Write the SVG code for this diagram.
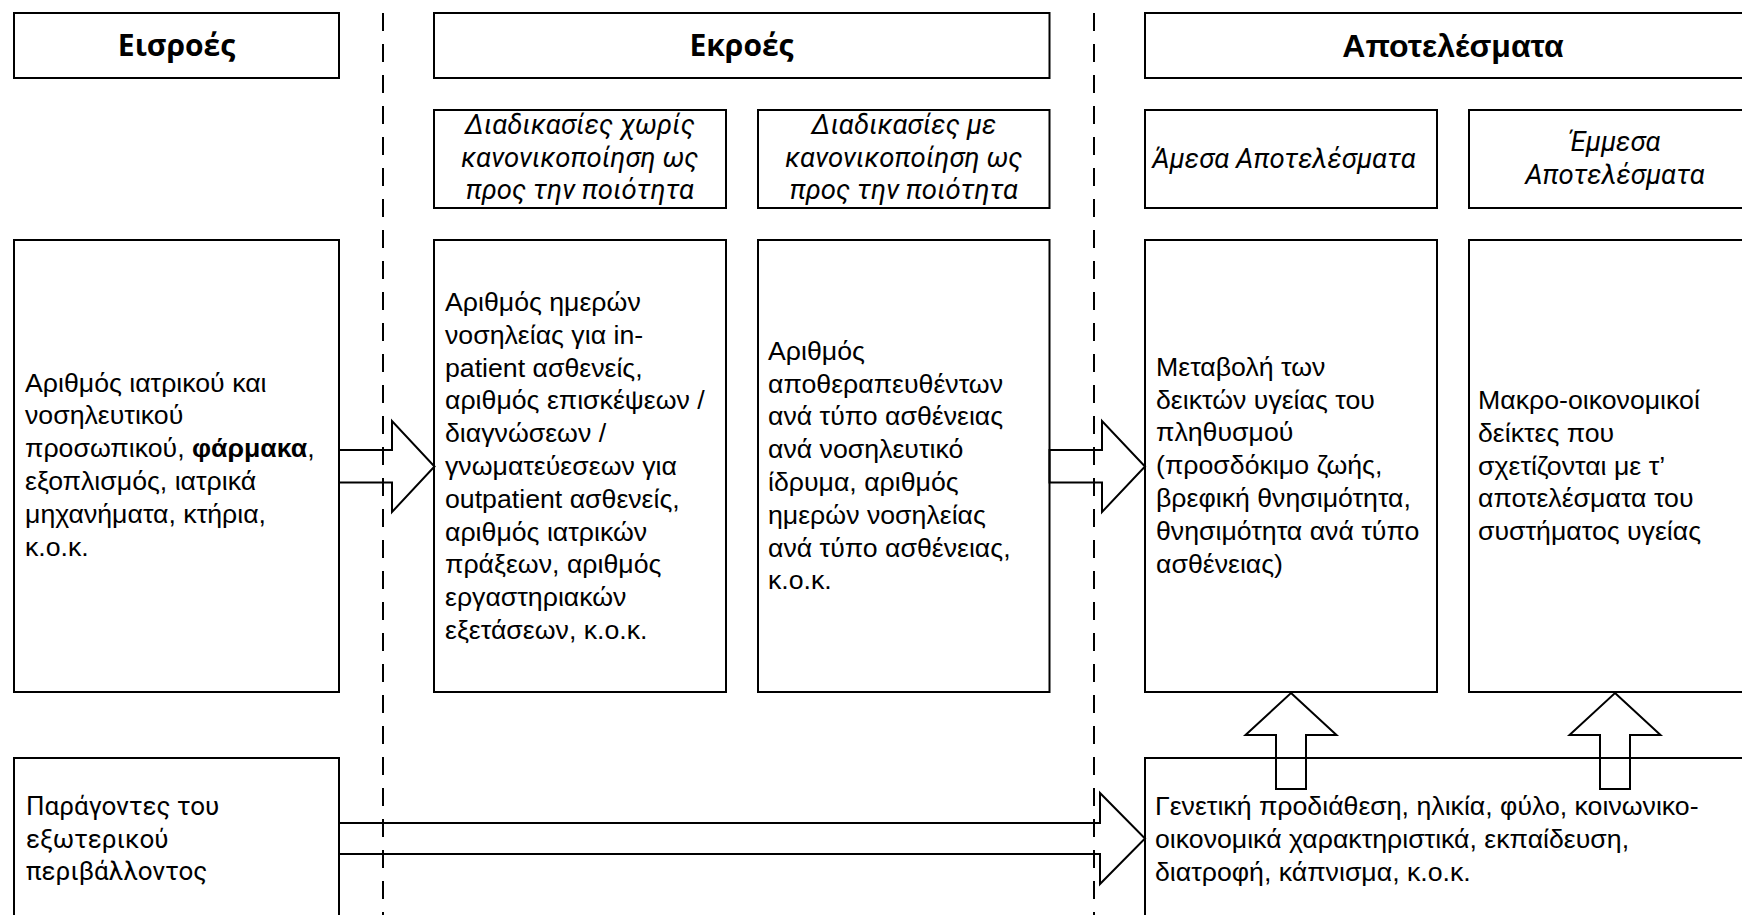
<svg xmlns="http://www.w3.org/2000/svg" width="1742" height="915" viewBox="0 0 1742 915">
<style>
.box{fill:#fff;stroke:#000;stroke-width:2}
.arr{fill:none;stroke:#000;stroke-width:2;stroke-linejoin:miter}
.dash{stroke:#000;stroke-width:2;stroke-dasharray:18 13;fill:none}
.hdr{font-family:"Open Sans","Noto Sans",sans-serif;font-weight:bold;font-size:30px;text-anchor:middle;fill:#000}
.hdr2{font-family:"Liberation Sans",Arial,sans-serif;font-weight:bold;font-size:32px;text-anchor:middle;fill:#000}
.sub{font-family:Roboto,"Open Sans",sans-serif;font-style:italic;font-size:27.5px;text-anchor:middle;fill:#000}
.body{font-family:"Liberation Sans",Arial,sans-serif;font-size:26.7px;fill:#000}
.gill{font-family:Roboto,"Open Sans",sans-serif;font-size:26px;fill:#000}
</style>
<rect width="1742" height="915" fill="#fff"/>

<g id="col-dividers">
<line class="dash" x1="383" y1="13" x2="383" y2="915"/>
<line class="dash" x1="1094" y1="13" x2="1094" y2="915"/>
</g>

<g id="hdr-inputs">
<rect class="box" x="14" y="13" width="325" height="65"/>
<text class="hdr" x="176.5" y="56">Εισροές</text>
</g>
<g id="hdr-outputs">
<rect class="box" x="434" y="13" width="615.5" height="65"/>
<text class="hdr" x="741.5" y="56">Εκροές</text>
</g>
<g id="hdr-outcomes">
<rect class="box" x="1145" y="13" width="616" height="65"/>
<text class="hdr2" x="1453" y="57">Αποτελέσματα</text>
</g>

<g id="sub-noquality">
<rect class="box" x="434" y="110" width="292" height="98"/>
<text class="sub" x="580" y="134">Διαδικασίες χωρίς</text>
<text class="sub" x="580" y="166.5">κανονικοποίηση ως</text>
<text class="sub" x="580" y="199">προς την ποιότητα</text>
</g>
<g id="sub-quality">
<rect class="box" x="758" y="110" width="291.5" height="98"/>
<text class="sub" x="904" y="134">Διαδικασίες με</text>
<text class="sub" x="904" y="166.5">κανονικοποίηση ως</text>
<text class="sub" x="904" y="199">προς την ποιότητα</text>
</g>
<g id="sub-direct">
<rect class="box" x="1145" y="110" width="292" height="98"/>
<text class="sub" x="1284" y="168">Άμεσα Αποτελέσματα</text>
</g>
<g id="sub-indirect">
<rect class="box" x="1469" y="110" width="292" height="98"/>
<text class="sub" x="1615" y="151">Έμμεσα</text>
<text class="sub" x="1615" y="183.5">Αποτελέσματα</text>
</g>

<g id="inputs">
<rect class="box" x="14" y="240" width="325" height="452"/>
<text class="body">
<tspan x="25" y="391.5">Αριθμός ιατρικού και</tspan>
<tspan x="25" y="424.3">νοσηλευτικού</tspan>
<tspan x="25" y="457.1">προσωπικού, <tspan font-weight="bold">φάρμακα</tspan>,</tspan>
<tspan x="25" y="489.9">εξοπλισμός, ιατρικά</tspan>
<tspan x="25" y="522.7">μηχανήματα, κτήρια,</tspan>
<tspan x="25" y="555.5">κ.ο.κ.</tspan>
</text>
</g>

<g id="outputs-noquality">
<rect class="box" x="434" y="240" width="292" height="452"/>
<text class="body">
<tspan x="445" y="311">Αριθμός ημερών</tspan>
<tspan x="445" y="343.8">νοσηλείας για in-</tspan>
<tspan x="445" y="376.6">patient ασθενείς,</tspan>
<tspan x="445" y="409.4">αριθμός επισκέψεων /</tspan>
<tspan x="445" y="442.2">διαγνώσεων /</tspan>
<tspan x="445" y="475">γνωματεύεσεων για</tspan>
<tspan x="445" y="507.8">outpatient ασθενείς,</tspan>
<tspan x="445" y="540.6">αριθμός ιατρικών</tspan>
<tspan x="445" y="573.4">πράξεων, αριθμός</tspan>
<tspan x="445" y="606.2">εργαστηριακών</tspan>
<tspan x="445" y="639">εξετάσεων, κ.ο.κ.</tspan>
</text>
</g>

<g id="outputs-quality">
<rect class="box" x="758" y="240" width="291.5" height="452"/>
<text class="body">
<tspan x="768" y="359.7">Αριθμός</tspan>
<tspan x="768" y="392.5">αποθεραπευθέντων</tspan>
<tspan x="768" y="425.3">ανά τύπο ασθένειας</tspan>
<tspan x="768" y="458.1">ανά νοσηλευτικό</tspan>
<tspan x="768" y="490.9">ίδρυμα, αριθμός</tspan>
<tspan x="768" y="523.7">ημερών νοσηλείας</tspan>
<tspan x="768" y="556.5">ανά τύπο ασθένειας,</tspan>
<tspan x="768" y="589.3">κ.ο.κ.</tspan>
</text>
</g>

<g id="outcomes-direct">
<rect class="box" x="1145" y="240" width="292" height="452"/>
<text class="body">
<tspan x="1156" y="375.7">Μεταβολή των</tspan>
<tspan x="1156" y="408.5">δεικτών υγείας του</tspan>
<tspan x="1156" y="441.3">πληθυσμού</tspan>
<tspan x="1156" y="474.1">(προσδόκιμο ζωής,</tspan>
<tspan x="1156" y="506.9">βρεφική θνησιμότητα,</tspan>
<tspan x="1156" y="539.7">θνησιμότητα ανά τύπο</tspan>
<tspan x="1156" y="572.5">ασθένειας)</tspan>
</text>
</g>

<g id="outcomes-indirect">
<rect class="box" x="1469" y="240" width="292" height="452"/>
<text class="body">
<tspan x="1478" y="409">Μακρο-οικονομικοί</tspan>
<tspan x="1478" y="441.8">δείκτες που</tspan>
<tspan x="1478" y="474.6">σχετίζονται με τ’</tspan>
<tspan x="1478" y="507.4">αποτελέσματα του</tspan>
<tspan x="1478" y="540.2">συστήματος υγείας</tspan>
</text>
</g>

<g id="environment">
<rect class="box" x="14" y="758" width="325" height="200"/>
<text class="gill">
<tspan x="26" y="815">Παράγοντες του</tspan>
<tspan x="26" y="847.5">εξωτερικού</tspan>
<tspan x="26" y="880">περιβάλλοντος</tspan>
</text>
</g>

<g id="determinants">
<rect class="box" x="1145" y="758" width="616" height="200"/>
<text class="body">
<tspan x="1155" y="815">Γενετική προδιάθεση, ηλικία, φύλο, κοινωνικο-</tspan>
<tspan x="1155" y="847.8">οικονομικά χαρακτηριστικά, εκπαίδευση,</tspan>
<tspan x="1155" y="880.6">διατροφή, κάπνισμα, κ.ο.κ.</tspan>
</text>
</g>

<g id="connectors">
<polygon class="arr" points="339,450 392,450 392,421 434.5,466.5 392,512 392,482.5 339,482.5"/>
<polygon class="arr" points="1049.5,450 1102,450 1102,421 1145,466.5 1102,512 1102,482.5 1049.5,482.5"/>
<polygon class="arr" points="339,823 1100,823 1100,793 1145,838.5 1100,884 1100,854 339,854"/>
<polygon class="arr" points="1291,693 1336.5,735 1306,735 1306,789 1276,789 1276,735 1245.5,735"/>
<polygon class="arr" points="1615,693 1660.5,735 1630,735 1630,789 1600,789 1600,735 1569.5,735"/>
</g>
</svg>
